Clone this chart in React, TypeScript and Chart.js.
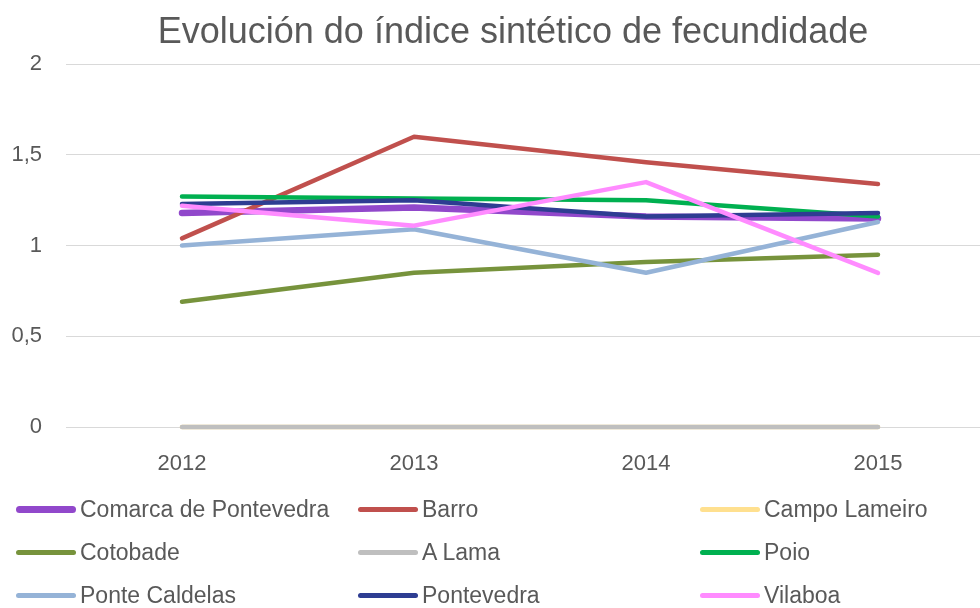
import React, { useEffect, useRef } from "react";
import { Chart, registerables } from "chart.js";

Chart.register(...registerables);

const titleText = "Evolución do índice sintético de fecundidade";
const years = ["2012", "2013", "2014", "2015"];
const seriesNames = [
  "Comarca de Pontevedra",
  "Barro",
  "Campo Lameiro",
  "Cotobade",
  "A Lama",
  "Poio",
  "Ponte Caldelas",
  "Pontevedra",
  "Vilaboa",
];
const comarca = [1.18, 1.21, 1.16, 1.15];
const barro = [1.04, 1.6, 1.46, 1.34];
const campoLameiro = [0, 0, 0, 0];
const cotobade = [0.69, 0.85, 0.91, 0.95];
const aLama = [0, 0, 0, 0];
const poio = [1.27, 1.26, 1.25, 1.16];
const ponteCaldelas = [1.0, 1.09, 0.85, 1.13];
const pontevedra = [1.23, 1.25, 1.16, 1.18];
const vilaboa = [1.22, 1.11, 1.35, 0.85];
const seriesValues = [comarca, barro, campoLameiro, cotobade, aLama, poio, ponteCaldelas, pontevedra, vilaboa];
const seriesColors = [
  "#9148CB",
  "#C0504D",
  "#FFE08F",
  "#77933C",
  "#BFBFBF",
  "#00B050",
  "#95B3D7",
  "#2E3D92",
  "#FF8BFF",
];
const seriesWidths = [6.5, 4.5, 4.5, 4.5, 4.5, 4.5, 4.5, 4.5, 4.5];
const yMin = 0;
const yMax = 2;
const yStep = 0.5;

const FONT = "'Liberation Sans', Arial, sans-serif";
const TEXT = "#595959";

export default function App() {
  const ref = useRef<HTMLCanvasElement | null>(null);

  useEffect(() => {
    if (!ref.current) return;
    const n = seriesNames.length;
    const chart = new Chart(ref.current, {
      type: "line",
      data: {
        labels: years,
        datasets: seriesNames.map((name, i) => ({
          label: name,
          data: seriesValues[i],
          borderColor: seriesColors[i],
          backgroundColor: seriesColors[i],
          borderWidth: seriesWidths[i],
          borderCapStyle: "round" as const,
          borderJoinStyle: "round" as const,
          pointRadius: 0,
          pointHoverRadius: 0,
          tension: 0,
          fill: false,
          clip: false as const,
          order: n - 1 - i,
        })),
      },
      options: {
        responsive: false,
        animation: false,
        layout: { padding: { left: 0, right: 0, top: 0, bottom: 111 } },
        plugins: {
          legend: { display: false },
          tooltip: { enabled: false },
          title: {
            display: true,
            text: titleText,
            color: TEXT,
            font: { family: FONT, size: 36, weight: "normal" },
            padding: { top: 11, bottom: 10 },
          },
        },
        scales: {
          x: {
            offset: true,
            grid: { display: false },
            border: { display: false },
            ticks: { color: TEXT, font: { family: FONT, size: 22 }, padding: 16 },
            afterFit: (s: any) => {
              s.height = 70;
            },
          },
          y: {
            min: yMin,
            max: yMax,
            grid: { color: "#D9D9D9", lineWidth: 1, drawTicks: false },
            border: { display: false },
            ticks: {
              stepSize: yStep,
              color: TEXT,
              font: { family: FONT, size: 22 },
              padding: 24,
              callback: (v: any) => String(v).replace(".", ","),
            },
            afterFit: (s: any) => {
              s.width = 66;
            },
          },
          yRight: {
            position: "right",
            min: yMin,
            max: yMax,
            grid: { display: false },
            border: { display: false },
            ticks: { display: false },
            afterFit: (s: any) => {
              s.width = 32;
            },
          },
        },
      },
    });
    return () => chart.destroy();
  }, []);

  const colLeft = [16, 358, 700];
  const rowCenter = [509, 552, 595];

  return (
    <div
      style={{
        position: "fixed",
        left: 0,
        top: 0,
        width: 980,
        height: 608,
        overflow: "hidden",
        background: "#fff",
      }}
    >
      <canvas ref={ref} width={1026} height={608} style={{ display: "block" }} />
      {seriesNames.map((name, i) => {
        const col = i % 3;
        const row = Math.floor(i / 3);
        const h = i === 0 ? 7 : 5;
        return (
          <div
            key={name}
            style={{
              position: "absolute",
              left: colLeft[col],
              top: rowCenter[row] - 14,
              height: 28,
              display: "flex",
              alignItems: "center",
              fontFamily: FONT,
              fontSize: 23,
              color: TEXT,
              whiteSpace: "nowrap",
            }}
          >
            <span
              style={{
                display: "inline-block",
                width: 60,
                height: h,
                borderRadius: h / 2,
                background: seriesColors[i],
                marginRight: 4,
              }}
            />
            <span>{name}</span>
          </div>
        );
      })}
    </div>
  );
}
